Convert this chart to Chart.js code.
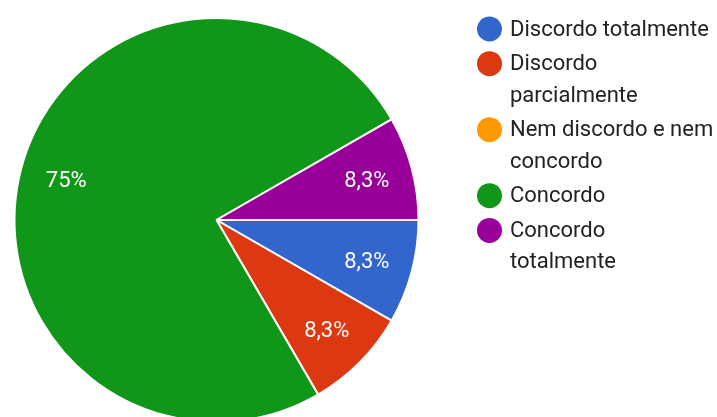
<!DOCTYPE html>
<html>
<head>
<meta charset="utf-8">
<script src="https://cdn.jsdelivr.net/npm/chart.js@4.4.0/dist/chart.umd.min.js"></script>
<style>
  html, body { margin: 0; padding: 0; background: #fff; }
  #wrap { width: 717px; height: 417px; overflow: hidden; position: relative; }
  #box { width: 717px; height: 440px; }
</style>
</head>
<body>
<div id="wrap"><div id="box"><canvas id="pie"></canvas></div></div>
<script>
// answers (legend lines) and their share of responses, in %
const categories = [
    ['Discordo totalmente'],
    ['Discordo', 'parcialmente'],
    ['Nem discordo e nem', 'concordo'],
    ['Concordo'],
    ['Concordo', 'totalmente']
];
const shares = [8.3, 8.3, 0, 75, 8.3];
const colors = ['#3366cc', '#dc3912', '#ff9900', '#109618', '#990099'];

const FONT = 'Roboto, "Noto Sans", sans-serif';

/**
 * Formats a share as it is written in pt-BR ("8,3%")
 */
function fmtShare(v) {
    return String(v).replace('.', ',') + '%';
}

/**
 * Writes the percentage inside each slice
 */
const sliceLabels = {
    id: 'sliceLabels',
    afterDatasetsDraw(chart) {
        const ctx = chart.ctx;
        const meta = chart.getDatasetMeta(0);
        ctx.save();
        ctx.font = '22px ' + FONT;
        ctx.fillStyle = '#fff';
        ctx.textAlign = 'center';
        ctx.textBaseline = 'middle';
        meta.data.forEach((arc, i) => {
            const v = chart.data.datasets[0].data[i];
            if (!v) return;
            const mid = (arc.startAngle + arc.endAngle) / 2;
            const r = arc.outerRadius * 0.77;
            ctx.fillText(fmtShare(v), arc.x + Math.cos(mid) * r, arc.y + Math.sin(mid) * r + 2);
        });
        ctx.restore();
    }
};

/**
 * Legend on the right, labels wrapped on several lines
 */
const sideLegend = {
    id: 'sideLegend',
    afterDraw(chart) {
        const ctx = chart.ctx;
        const lineH = 31.3;
        const step = 3.4;
        let y = 29;
        ctx.save();
        ctx.font = '22px ' + FONT;
        ctx.textBaseline = 'middle';
        chart.data.labels.forEach((lines, i) => {
            ctx.fillStyle = chart.data.datasets[0].backgroundColor[i];
            ctx.beginPath();
            ctx.arc(489.5, y, 12.5, 0, Math.PI * 2);
            ctx.fill();
            ctx.fillStyle = '#222';
            lines.forEach((t, k) => ctx.fillText(t, 510, y + k * lineH + 1));
            y += lines.length * lineH + step;
        });
        ctx.restore();
    }
};

const ctx = document.getElementById('pie');
const myChart = new Chart(ctx, {
    type: 'pie',
    data: {
        labels: categories,
        datasets: [{
            data: shares,
            backgroundColor: colors,
            borderColor: '#fff',
            borderWidth: 2
        }]
    },
    options: {
        responsive: true,
        maintainAspectRatio: false,
        animation: false,
        rotation: 90,
        layout: { padding: { left: 13, right: 297, top: 17, bottom: 17 } },
        plugins: {
            legend: { display: false },
            tooltip: { enabled: false }
        }
    },
    plugins: [sliceLabels, sideLegend]
});
</script>
</body>
</html>
